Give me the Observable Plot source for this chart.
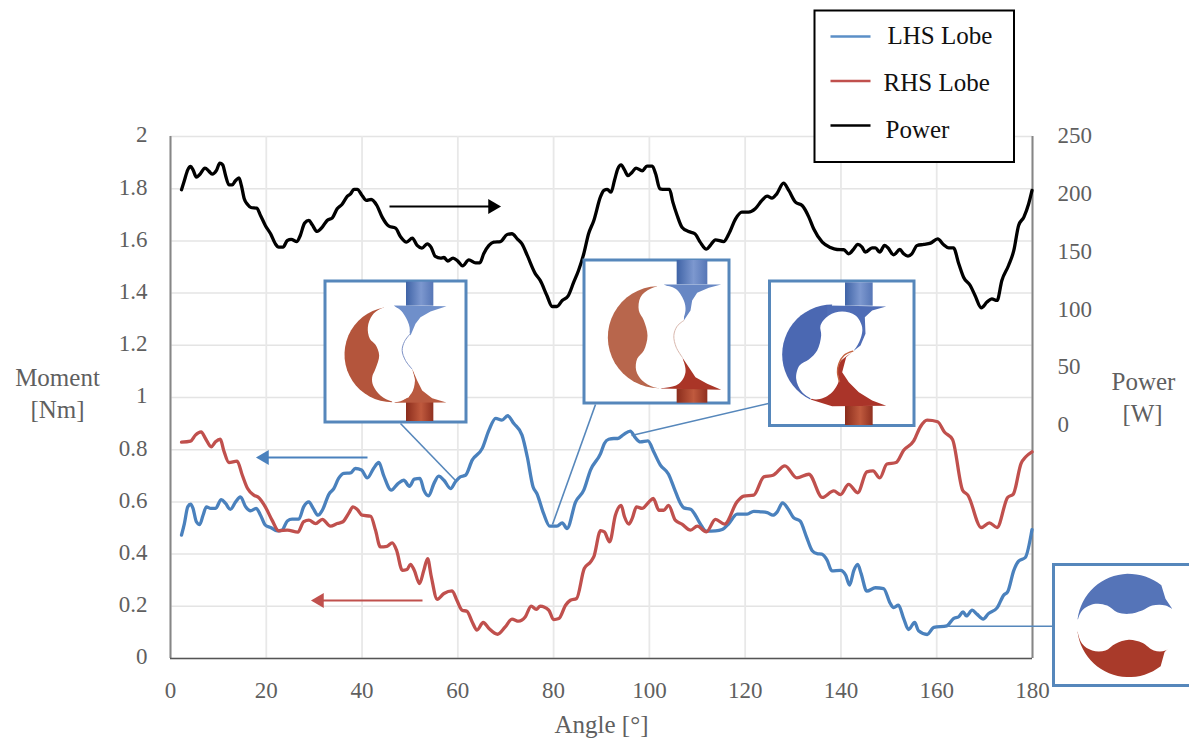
<!DOCTYPE html>
<html><head><meta charset="utf-8">
<script src="https://cdn.jsdelivr.net/npm/d3@7"></script>
<script src="https://cdn.jsdelivr.net/npm/@observablehq/plot@0.6"></script>
<style>html,body{margin:0;padding:0;background:#fff}svg{display:block}</style>
</head><body><div id="chart"></div>
<script>
// ---------- chart values ----------
const powerAngle = [2.3,2.9,3.6,4.2,4.7,5.4,6.1,7.2,8,8.7,9.6,10.3,10.9,11.5,12.2,12.9,13.6,14.3,14.8,15.4,16.1,16.8,18,18.8,19.8,20.9,21.9,22.6,23.5,24.4,25.2,26.4,27.1,28,28.9,29.6,30.6,31.7,32.7,33.8,34.8,35.8,36.9,37.6,38.3,39,40,40.9,41.9,43.1,44.2,45.6,47,48,49.3,50.5,51.5,52.5,53.6,54.4,55.3,56.4,57.1,57.9,59,60,61,62.3,63.7,64.6,65.4,66.5,67.5,68.9,70.3,71.3,72.4,73.4,74.5,76.2,77.2,78.6,79.7,80.7,81.8,83,84.2,85.2,86.3,87.3,88.4,89.8,90.5,91.2,92,92.7,93.4,94.1,94.8,95.5,96.4,97.2,98.5,99.5,100.6,101.3,102.2,103.3,104.2,104.9,105.8,106.8,108.2,109.5,110.6,111.9,112.7,113.8,115.5,116.6,118,119.3,120.7,122.1,123.5,124.6,125.6,126.6,128,129.1,130.5,131.9,133.3,134.3,136.1,137.8,139.2,140.6,141.6,142.7,143.5,144.4,145.1,146.5,147.2,148.1,149.1,149.8,151,152.3,153.1,154,154.8,155.9,157.3,158.7,160.2,161.4,162.5,163.5,164.6,165.6,167,168,169.3,170.5,171.5,172.6,173.6,175,176.1,177.1,178.2,179.2,179.9];
const powerW = [204,212,221.2,224.1,221.2,214.9,217.2,222.7,220.1,217.5,220.7,227,225.5,216.3,208.3,208.3,212,214.3,207.7,196.2,191.3,188.7,188.1,181.8,173.2,166,157.3,154.5,154.5,160.2,161.1,159.3,164.5,175.2,177.5,173.7,168,171.7,177.5,179.8,187.6,191.3,198.2,200.5,204.3,204.3,199.1,194.8,195.6,190.4,180.4,172.6,170.9,163.7,158.8,162.2,155.9,153.6,157.3,154.5,146.4,145,145.5,142.4,145,142.4,138.3,143.5,140.9,140.9,148.7,155.9,158.8,159.3,165.4,166,161.6,157.3,147.3,131.4,125.7,112.7,103.2,103.2,108.4,112.1,124.2,134.3,148.7,166,177.5,198,203.4,204.3,201.9,212,222.1,225.5,221.2,216.3,219.2,222.7,220.4,224.4,224.4,217.8,204.8,204.3,204.3,193.3,181.8,171.7,168,166,158.8,152.7,155.9,160.8,159.3,166,178.9,184.7,184.7,187.6,194.8,198.5,196.8,200.5,209.7,203.4,193.3,190.4,180.4,170.3,158.8,154.2,152.4,152.2,148.7,153,156.8,154.5,150.1,153.9,153.9,150.1,155.9,153.9,147.8,152.4,148.7,146.7,148.7,155.9,156.8,157.9,161.6,156.8,153.9,153.9,140.1,128.5,121.3,112.7,102.1,107,109.8,108.4,125.7,138.6,151.6,173.2,180.4,191.9,203.4];

const lhsAngle = [2.3,2.9,3.6,4.2,4.7,5.4,6.1,6.8,7.5,8.4,9.4,10.6,11.5,12.5,13.6,14.6,15.7,16.7,17.9,18.8,19.8,20.9,22.3,23.3,24.4,25.4,26.8,27.8,28.9,29.8,30.8,31.7,33.1,34.1,35.1,36.2,37.6,38.6,39.9,41.1,42.4,43.5,44.5,46.1,47.5,48.7,49.9,50.9,52.1,52.9,53.9,55,56,57.1,58.5,59.5,60.5,61.6,63,65.1,66.5,67.9,69.2,70.4,71.7,73.4,74.5,75.7,76.5,77.9,79.2,80.7,81.8,82.8,84.6,86.3,87.7,89.8,90.6,91.5,92.6,93.4,94.6,96,97.1,98.1,99.7,100.9,102.3,104,105.2,106.5,107.2,108.6,109.6,110.6,111.9,113.8,115.2,116.6,118.3,120.4,121.8,123.2,124.6,125.8,126.7,127.8,128.9,130.1,131.5,132.8,134,135,136,137.1,138.1,139.9,141,141.8,142.7,143.5,144.2,145.4,147.2,148.9,150.3,151,152,153.1,154.1,155.4,156.2,158,159.4,162.1,163.5,164.6,165.5,166.2,167.4,168.4,169.7,170.8,172.6,174,174.8,176.1,177.1,178.5,179.9];
const lhsMoment = [.473,.517,.581,.591,.575,.524,.513,.549,.581,.575,.575,.609,.594,.571,.6,.619,.581,.566,.575,.549,.511,.502,.489,.492,.527,.534,.534,.581,.6,.575,.549,.568,.63,.651,.69,.709,.711,.728,.722,.692,.728,.751,.702,.645,.67,.683,.66,.687,.69,.645,.623,.67,.699,.683,.651,.677,.696,.702,.76,.805,.875,.92,.913,.93,.9,.856,.773,.658,.632,.556,.507,.507,.52,.498,.6,.645,.722,.785,.824,.84,.843,.843,.858,.871,.845,.83,.834,.792,.741,.706,.651,.594,.577,.572,.549,.517,.488,.489,.494,.517,.553,.553,.564,.562,.559,.549,.562,.596,.575,.54,.526,.466,.413,.402,.4,.377,.336,.338,.319,.281,.338,.361,.326,.258,.271,.268,.211,.195,.204,.153,.111,.138,.106,.092,.119,.125,.153,.16,.179,.163,.185,.17,.151,.172,.194,.243,.255,.338,.373,.387,.494];

const rhsAngle = [2.3,4.2,5.2,6.4,7.3,8.5,9.4,10.4,11.1,12.2,13.9,15,16.1,17.4,18.4,19.8,21.2,22.6,24.4,26.6,27.8,28.9,30.3,31.7,33.4,34.8,36,37.2,38.1,39,40,41.8,42.8,43.8,45.2,46.3,47.2,48.4,49.4,50.1,50.9,52,52.9,53.7,54.4,55.7,57.1,58.8,59.8,60.9,61.9,63,64,65.3,66.5,68.3,69.9,71.3,72.7,74.1,75.3,76.4,77.2,79,80,81.1,82.5,83.5,84.8,86.4,87.7,88.4,89.8,90.6,91.7,92.9,94.1,94.8,95.7,96.4,97.3,98.5,99.9,100.8,102,103,104,105.4,106.8,108.6,110,111.9,113.8,115.7,118.3,119.7,121.8,123.9,125.8,128.3,130.8,133.3,136.1,138.5,139.9,141.6,143.5,145.4,146.7,148.1,149.6,151.5,153.1,155.2,156.6,158,160.2,161.6,163.3,165.4,166.5,169.3,171,172.6,174.8,176,177.6,178.6,179.9];
const rhsMoment = [.829,.833,.856,.868,.843,.811,.83,.84,.798,.751,.756,.702,.651,.626,.617,.581,.53,.489,.492,.484,.524,.53,.517,.533,.507,.517,.524,.556,.581,.571,.549,.545,.492,.428,.43,.443,.415,.338,.341,.361,.338,.287,.338,.383,.319,.227,.249,.259,.223,.185,.181,.14,.109,.138,.115,.093,.121,.151,.143,.16,.201,.188,.201,.185,.149,.153,.204,.223,.23,.345,.37,.39,.49,.485,.447,.549,.587,.543,.515,.536,.581,.575,.6,.613,.568,.568,.587,.53,.515,.492,.507,.485,.533,.515,.6,.622,.626,.696,.702,.738,.692,.706,.617,.642,.628,.667,.635,.715,.719,.692,.745,.751,.798,.834,.888,.913,.907,.868,.839,.645,.626,.502,.52,.502,.617,.63,.747,.773,.792];

const angleTicks = [0,20,40,60,80,100,120,140,160,180];
const momentTicks = [0,.2,.4,.6,.8,1,1.2,1.4,1.6,1.8,2];
const powerTicks = [0,50,100,150,200,250];
const legendLabels = ["LHS Lobe","RHS Lobe","Power"];

// ---------- layout helpers: page pixels to the chart's own scales ----------
const pxPerDeg = (1032-170)/180, pxPerNm = (658-136)/2;
const X = px => (px-170)/pxPerDeg;
const Y = py => (658-py)/pxPerNm;
const powerToMoment = w => 2-(250-w)*1.158/pxPerNm;
const series = (a,v) => a.map((x,i)=>({x,y:v[i]}));

const BLUE="#4a81bd", RED="#c0504d", FRAME="#5687bb", SERIF="'Liberation Serif',serif", GREY="#5f5f5f";

const label = (txt,px,py,o={}) => Plot.text([txt],{x:()=>X(px),y:()=>Y(py),text:d=>d,fontSize:25,fill:GREY,...o});
const seg = (x1,y1,x2,y2,stroke,strokeWidth) => Plot.link([0],{x1:()=>X(x1),y1:()=>Y(y1),x2:()=>X(x2),y2:()=>Y(y2),stroke,strokeWidth});
const box = (x1,y1,x2,y2,stroke,strokeWidth) => Plot.rect([0],{x1:()=>X(x1),y1:()=>Y(y1),x2:()=>X(x2),y2:()=>Y(y2),fill:"white",stroke,strokeWidth});
const arrow = (x1,x2,y,color,w) => [
  seg(x1,y,x2+(x1<x2?-6:6),y,color,w),
  Plot.dot([0],{x:()=>X(x2+(x1<x2?-5:5)),y:()=>Y(y),symbol:"triangle",r:5.5,rotate:x1<x2?90:-90,fill:color,stroke:"none"})
];

// diagram outlines: coordinates measured in 3x crop units from an origin
const arc=(cx,cy,r,a0,a1,n=24)=>d3.range(n+1).map(i=>{const t=(a0+(a1-a0)*i/n)*Math.PI/180;return [cx+r*Math.cos(t),cy+r*Math.sin(t)];});
const poly=(ox,oy)=>(pts,fill,curve="linear-closed")=>Plot.line(pts,{x:p=>X(ox+p[0]/3),y:p=>Y(oy+p[1]/3),fill,stroke:"none",curve});
const rim=(ox,oy)=>(pts,stroke,strokeWidth)=>Plot.line(pts,{x:p=>X(ox+p[0]/3),y:p=>Y(oy+p[1]/3),stroke,strokeWidth,curve:"catmull-rom"});
const port=(ox,oy)=>(x1,y1,x2,y2,fill)=>Plot.rect([0],{x1:()=>X(ox+x1/3),x2:()=>X(ox+x2/3),y1:()=>Y(oy+y1/3),y2:()=>Y(oy+y2/3),fill});
const gradients=()=>{const g=d3.create("svg:defs");g.html(`
 <linearGradient id="pb"><stop offset="0" stop-color="#3f63a6"/><stop offset=".55" stop-color="#7d98cf"/><stop offset="1" stop-color="#5676b6"/></linearGradient>
 <linearGradient id="pr"><stop offset="0" stop-color="#8a2c1c"/><stop offset=".55" stop-color="#c05a3e"/><stop offset="1" stop-color="#8f3020"/></linearGradient>`);return g.node();};

function inset1(){const p=poly(320,255),r=port(320,255),l=rim(320,255);return [
  box(325,281,466,422,FRAME,3),
  r(258,80,340,152,"url(#pb)"), r(258,440,340,498,"url(#pr)"),
  p(arc(215,297,143,260,90),"#b4553c"),
  p([[220,150],[378,152],[330,168],[300,185],[285,205],[270,240],[262,215],[245,170]],"#6f8fca"),
  p([[220,442],[378,441],[335,428],[305,405],[290,375],[275,340],[283,375],[265,425]],"#b95a40"),
  p([[205,153],[235,160],[258,190],[268,225],[258,250],[246,280],[252,310],[272,340],[283,375],[272,415],[240,437],[215,438],[180,420],[158,390],[155,365],[165,340],[176,300],[165,268],[148,250],[142,215],[155,180],[180,160]],"white","catmull-rom-closed"),
  l([[268,236],[252,258],[245,285],[255,315],[274,340]],"#7f93c6",1)
];}
function inset2(){const p=poly(575,255),r=port(575,255),l=rim(575,255);return [
  box(584,260,729,403,FRAME,3),
  r(305,15,397,88,"url(#pb)"), r(305,400,397,443,"url(#pr)"),
  p(arc(250,245,153,268,90),"#b8664c"),
  p([[265,87],[437,87],[400,97],[365,112],[350,135],[345,165],[325,195],[328,150],[310,110]],"#6787c4"),
  p([[255,399],[437,403],[395,385],[360,365],[340,335],[320,305],[328,350],[300,385]],"#aa3527"),
  p([[262,90],[300,100],[325,135],[330,165],[320,195],[296,235],[300,270],[320,305],[330,350],[310,385],[270,397],[235,395],[200,375],[182,345],[185,310],[205,285],[216,240],[205,195],[190,165],[195,125],[225,100]],"white","catmull-rom-closed"),
  l([[325,195],[305,212],[295,240],[302,275],[320,305]],"#d9b8ae",1)
];}
function inset3(){const p=poly(575,255),r=port(575,255),l=rim(575,255);return [
  box(769.5,281,914,425.5,FRAME,3),
  r(810,82,893,152,"url(#pb)"), r(810,452,893,510,"url(#pr)"),
  p(arc(770,297,150,270,116),"#4b68b2"),
  p([[755,150],[932,153],[890,165],[868,185],[870,235],[855,270],[836,285],[800,240],[755,200]],"#4f6db6"),
  p([[705,432],[770,452],[932,451],[890,435],[850,410],[820,380],[800,350],[812,305],[832,287],[790,320],[780,380]],"#aa3429"),
  p([[800,168],[840,180],[860,215],[855,250],[835,285],[800,310],[785,345],[790,375],[765,415],[720,432],[680,410],[662,370],[672,330],[700,312],[725,285],[737,240],[735,210],[760,180]],"white","catmull-rom-closed"),
  l([[832,287],[805,300],[790,325],[786,350],[792,378]],"#c4623f",1.4)
];}
function inset4(){const p=poly(1040,555);return [
  box(1053.5,564.5,1194,685.5,FRAME,3),
  p([...arc(265,210,155,187,309),[375,130],[395,160],[265,210]],"#5574b8"),
  p([...arc(265,210,155,173,52),[372,290],[395,265],[265,215]],"#a93a2a"),
  p([[110,210],[125,165],[165,145],[200,150],[230,170],[265,175],[305,165],[335,150],[375,150],[410,175],[422,210],[410,255],[375,285],[340,285],[305,262],[265,253],[225,265],[195,285],[155,285],[125,265]],"white","catmull-rom-closed")
];}

const chart = Plot.plot({
  width:1189, height:738,
  marginLeft:170, marginRight:157, marginTop:136, marginBottom:80,
  style:{fontFamily:SERIF, background:"#fff"},
  x:{domain:[0,180],range:[170,1032]},
  y:{domain:[0,2],range:[658,136]},
  marks:[
    gradients,
    Plot.ruleY(momentTicks,{stroke:"#e4e4e4",strokeWidth:1.5}),
    Plot.ruleX(angleTicks,{stroke:"#e8e8e8",strokeWidth:1.8}),
    Plot.ruleX([0,180],{stroke:"#868686",strokeWidth:2}),
    Plot.ruleY([0],{stroke:"#555",strokeWidth:1.6}),
    Plot.axisX({ticks:angleTicks,tickSize:0,tickPadding:23,fontSize:23,fill:GREY,label:null,tickFormat:d=>String(d)}),
    Plot.axisY({ticks:momentTicks,tickSize:0,tickPadding:23,fontSize:23,dy:-1.5,fill:GREY,label:null,tickFormat:d=>String(+d)}),
    Plot.text(powerTicks,{y:powerToMoment,frameAnchor:"right",dx:25,dy:-1,textAnchor:"start",text:d=>String(d),fontSize:23,fill:GREY}),
    label("Moment",57,377),label("[Nm]",57,409),
    label("Power",1143,381),label("[W]",1142,413),
    label("Angle [°]",601,724),
    Plot.line(series(powerAngle,powerW),{x:"x",y:d=>powerToMoment(d.y),stroke:"#000",strokeWidth:3.3,curve:"monotone-x"}),
    Plot.line(series(lhsAngle,lhsMoment),{x:"x",y:"y",stroke:BLUE,strokeWidth:3.3,curve:"monotone-x"}),
    Plot.line(series(rhsAngle,rhsMoment),{x:"x",y:"y",stroke:RED,strokeWidth:3.3,curve:"monotone-x"}),
    seg(400,423,455,480,FRAME,1.6), seg(595,404,552,524,FRAME,1.6), seg(768,403,631,435,FRAME,1.6), seg(947,625.7,1053,625.7,FRAME,1.6),
    ...inset1(),...inset2(),...inset3(),...inset4(),
    ...arrow(389,497,206,"#000",1.8),
    ...arrow(367,259,457,BLUE,1.8),
    ...arrow(422,314,600,RED,1.8),
    box(814.5,10.5,1014,162,"#000",2),
    seg(830,36,870,36,"#5b8fc7",2.6), seg(830,80.5,870,80.5,"#c0504d",2.6), seg(830,125,870,125,"#000",2.6),
    label(legendLabels[0],887,35.5,{textAnchor:"start",fill:"#111",fontSize:25,letterSpacing:0.3}),
    label(legendLabels[1],883,82.5,{textAnchor:"start",fill:"#111",fontSize:25,letterSpacing:0.3}),
    label(legendLabels[2],885,129,{textAnchor:"start",fill:"#111",fontSize:25,letterSpacing:0.3})
  ]
});
document.getElementById("chart").append(chart);
</script></body></html>
